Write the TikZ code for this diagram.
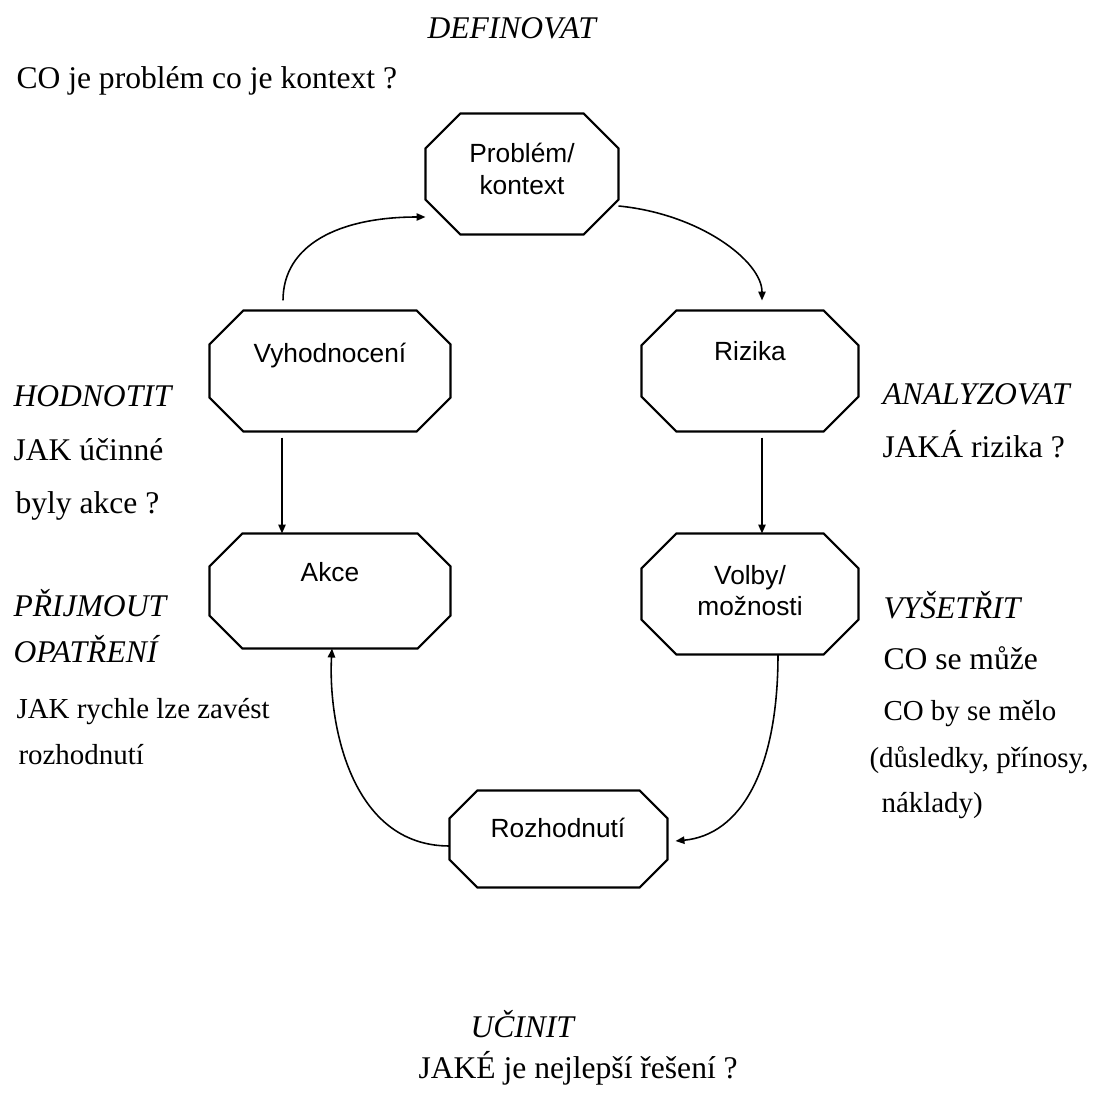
\documentclass[tikz,border=0pt]{standalone}
\usepackage{fontspec}
\setmainfont{Liberation Serif}
\newfontfamily\boxfont{Liberation Sans}
\usetikzlibrary{arrows.meta,calc}
\def\u{0.38pt}
\tikzset{
  boxarea/.style={rectangle, draw=none, inner sep=0pt},
  boxline/.style={line width=0.8pt, line join=miter},
  conn/.style={line width=0.6pt, -{Triangle[length=3.4pt, width=2.8pt]}},
  boxtxt/.style={font=\boxfont\fontsize{10}{12}\selectfont, inner sep=0pt, anchor=base},
  lbl/.style={font=\fontsize{12}{14}\selectfont, inner sep=0pt, anchor=base west},
  lbls/.style={font=\fontsize{11}{13}\selectfont, inner sep=0pt, anchor=base west},
  lbli/.style={font=\fontsize{12}{14}\selectfont\itshape, inner sep=0pt, anchor=base west}
}
\newcommand\octbox[6]{%
  \node[boxarea, minimum width=#4*\u, minimum height=#5*\u] (#1) at (#2,#3) {};
  \draw[boxline] ($(#1.north west)+(#6,0)$) -- ($(#1.north east)+(-#6,0)$) -- ($(#1.north east)+(0,#6)$) -- ($(#1.south east)+(0,-#6)$) -- ($(#1.south east)+(-#6,0)$) -- ($(#1.south west)+(#6,0)$) -- ($(#1.south west)+(0,-#6)$) -- ($(#1.north west)+(0,#6)$) -- cycle;
}
\begin{document}
\begin{tikzpicture}[x=0.38pt, y=-0.38pt]
\useasboundingbox (0,0) rectangle (1098,1095);
% boxes
\octbox{pb}{522}{174}{192}{120}{35}
\octbox{vy}{330}{371}{240}{120}{34}
\octbox{rz}{750}{371}{216}{120}{35}
\octbox{ak}{330}{591}{240}{114}{33}
\octbox{vo}{750}{594}{216}{120}{35}
\octbox{ro}{558.5}{839}{217}{96}{28}
% box texts
\node[boxtxt] (pbt1) at (522,163) {Problém/};
\node[boxtxt] (pbt2) at (522,195) {kontext};
\node[boxtxt] (vyt) at (330,362) {Vyhodnocení};
\node[boxtxt] (rzt) at (750,361) {Rizika};
\node[boxtxt] (akt) at (330,582) {Akce};
\node[boxtxt] (vot1) at (750,585) {Volby/};
\node[boxtxt] (vot2) at (750,615) {možnosti};
\node[boxtxt] (rot) at (558,837) {Rozhodnutí};
% connectors
\draw[conn] ($(vy.north)+(-47,-10)$) .. controls +(0,-56) and +(-86,0) .. ($(pb.west)+(0,43)$);
\draw[conn] ($(pb.east)+(0,32)$) .. controls +(82,8) and +(0,-39) .. ($(rz.north)+(12,-10)$);
\draw[conn] ($(vy.south)+(-48,6)$) -- ($(ak.north)+(-48,0)$);
\draw[conn] ($(rz.south)+(12,6)$) -- ($(vo.north)+(12,0)$);
\draw[conn] ($(vo.south)+(28,0)$) .. controls +(0,116) and +(65,-6) .. ($(ro.east)+(8,2)$);
\draw[conn] ($(ro.west)+(0,7)$) .. controls +(-100,0) and +(-4,72) .. ($(ak.south)+(2,0)$);
% labels
\node[lbli] (t1) at (427,39) {DEFINOVAT};
\node[lbl] (t2) at (16,89) {CO je problém co je kontext ?};
\node[lbli] (l1) at (13,407) {HODNOTIT};
\node[lbl] (l2) at (13,461) {JAK účinné};
\node[lbl] (l3) at (15,513) {byly akce ?};
\node[lbli] (l4) at (13,617) {PŘIJMOUT};
\node[lbli] (l5) at (13,663) {OPATŘENÍ};
\node[lbls] (l6) at (16,718) {JAK rychle lze zavést};
\node[lbls] (l7) at (18,765) {rozhodnutí};
\node[lbli] (r1) at (882,405) {ANALYZOVAT};
\node[lbl] (r2) at (882,458) {JAKÁ rizika ?};
\node[lbli] (r3) at (883,618) {VYŠETŘIT};
\node[lbl] (r4) at (883,670) {CO se může};
\node[lbls] (r5) at (883,721) {CO by se mělo};
\node[lbls] (r6) at (869,767) {(důsledky, přínosy,};
\node[lbls] (r7) at (881,812) {náklady)};
\node[lbli] (b1) at (470,1037) {UČINIT};
\node[lbl] (b2) at (418,1078) {JAKÉ je nejlepší řešení ?};
\end{tikzpicture}
\end{document}
